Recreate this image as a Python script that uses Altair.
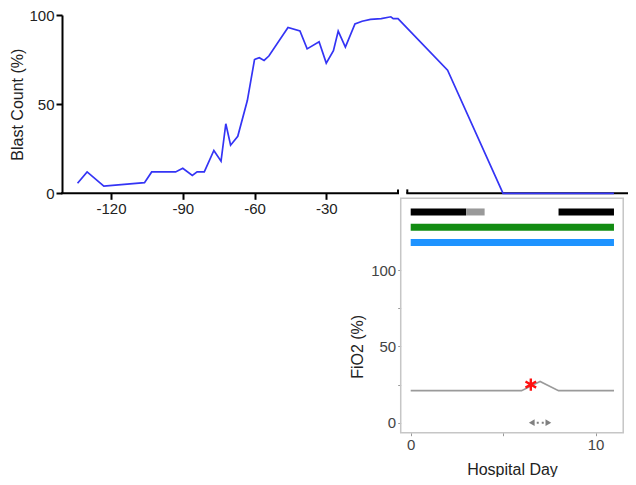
import altair as alt
import pandas as pd

# ---------------- data ----------------
# Blast count before admission: day relative to admission, percent
pre_days = [-134, -130, -123, -106, -103, -93, -90, -86, -84, -81, -77, -74, -72,
            -70, -67, -63, -60, -58, -56, -54, -46, -41, -38, -33, -30, -27, -25,
            -22, -18, -15, -11.5, -7, -3, -2, 0]
pre_blast = [5.6, 12, 4, 6, 12, 12, 14, 10, 12, 12, 24, 18, 39,
             27, 32, 52, 75, 76, 74.5, 77, 93, 91, 81, 85, 73, 80, 91,
             82, 95, 96.5, 97.5, 98, 99, 98, 98]
# Blast count during hospital stay (hospital day)
hosp_days = [2, 5, 11]
hosp_blast = [69, 0, 0]

# FiO2 during hospital stay
fio2_days = [0, 6, 7, 8, 11]
fio2_vals = [21, 21, 27, 21, 21]

# Treatment tracks shown above the FiO2 trace
track_names = ["therapy A", "therapy A (tapering)", "therapy A", "therapy B", "therapy C"]
track_start = [0, 3, 8, 0, 0]
track_end = [3, 4, 11, 11, 11]
track_color = ["#000000", "#999999", "#000000", "#128c12", "#1e93ff"]

# Event marker and interval arrow
event_day, event_fio2 = [6.5], [25]
arrow_days = [6.55, 7.45]

# ---------------- layout ----------------
W, H = 620, 469
FONT = "Liberation Sans"
HOSP_OFFSET = 1.0           # places the hospital segment after the axis break
track_level = {"therapy A": 138, "therapy A (tapering)": 138, "therapy B": 128, "therapy C": 118}

# top panel scales (piecewise x with a broken axis)
top_x_scale = alt.Scale(domain=[-140.5, 0, HOSP_OFFSET - 0.18, HOSP_OFFSET + 12.19],
                        range=[54, 390, 399.3, 627.9], nice=False, zero=False)
top_y_scale = alt.Scale(domain=[0, 100], range=[185.3, 7], nice=False, zero=False)

top_x_axis = alt.Axis(values=[-120, -90, -60, -30], orient="bottom", offset=185.3 - H,
                      domain=False, grid=False, tickColor="black", tickWidth=2, tickSize=6,
                      labelExpr="'' + datum.value",
                      labelFontSize=15, labelColor="#222", labelPadding=2, labelFont=FONT,
                      labelFlush=False, title=None)
top_y_axis = alt.Axis(values=[0, 50, 100], orient="left", offset=-54, grid=False,
                      domainColor="black", domainWidth=2, tickColor="black", tickWidth=2,
                      tickSize=6, labelFontSize=15, labelColor="#222", labelPadding=2,
                      labelFont=FONT, title="Blast Count (%)", titleFont=FONT,
                      titleFontSize=16, titleFontWeight="normal", titleColor="#222",
                      titlePadding=3)

def TX(f="t"):
    return alt.X(f + ":Q", scale=top_x_scale, axis=top_x_axis)

def TY(f="v"):
    return alt.Y(f + ":Q", scale=top_y_scale, axis=top_y_axis)

blast_df = pd.DataFrame({
    "t": pre_days + [d + HOSP_OFFSET for d in hosp_days],
    "v": pre_blast + hosp_blast,
})
axis_seg_df = pd.DataFrame({"t": [-140.5, HOSP_OFFSET - 0.18], "t2": [0, HOSP_OFFSET + 13], "v": [0, 0]})
hook_df = pd.DataFrame({"t": [0, HOSP_OFFSET - 0.18], "v": [0, 0], "v2": [2.2, 2.2]})

axis_lines = alt.Chart(axis_seg_df).mark_rule(color="black", strokeWidth=2, strokeCap="square").encode(
    x=TX(), x2="t2:Q", y=TY())
hooks = alt.Chart(hook_df).mark_rule(color="black", strokeWidth=2).encode(
    x=TX(), y=TY(), y2="v2:Q")
blast_line = alt.Chart(blast_df).mark_line(color="#3434f5", strokeWidth=1.7).encode(
    x=TX(), y=TY())

top = alt.layer(axis_lines, hooks, blast_line)

# inset (FiO2) scales
in_x_scale = alt.Scale(domain=[0, 10], range=[402.7, 587.5], nice=False, zero=False)
in_y_scale = alt.Scale(domain=[0, 100], range=[414.7, 262], nice=False, zero=False)
in_x_axis = alt.Axis(values=[0, 5, 10], labelExpr="datum.value % 10 == 0 ? datum.label : ''",
                     orient="bottom", offset=424.7 - H, domain=False, grid=False,
                     tickColor="#9a9a9a", tickSize=3, labelFontSize=15, labelColor="#444",
                     labelPadding=2, labelFont=FONT, labelFlush=False,
                     title="Hospital Day", titleFont=FONT, titleFontSize=16,
                     titleFontWeight="normal", titleColor="#222", titlePadding=9, titleX=504)
in_y_axis = alt.Axis(values=[0, 25, 50, 75, 100], labelExpr="datum.value % 50 == 0 ? datum.label : ''",
                     orient="left", offset=-392.7, domain=False, grid=False,
                     tickColor="#9a9a9a", tickSize=3, labelFontSize=15, labelColor="#444",
                     labelPadding=2, labelFont=FONT, title="FiO2 (%)", titleFont=FONT,
                     titleFontSize=16, titleFontWeight="normal", titleColor="#222",
                     titlePadding=5)

def IX(f="d"):
    return alt.X(f + ":Q", scale=in_x_scale, axis=in_x_axis)

def IY(f="v"):
    return alt.Y(f + ":Q", scale=in_y_scale, axis=in_y_axis)

frame_df = pd.DataFrame({"d": [-0.54], "d2": [11.5], "v": [-6.5], "v2": [147]})
track_df = pd.DataFrame({"d": track_start, "d2": track_end,
                         "v": [track_level[n] for n in track_names], "c": track_color})
fio2_df = pd.DataFrame({"d": fio2_days, "v": fio2_vals})
event_df = pd.DataFrame({"d": event_day, "v": event_fio2})
arrow_df = pd.DataFrame({"d": [arrow_days[0]], "d2": [arrow_days[1]], "v": [0]})
head_df = pd.DataFrame({"d": arrow_days, "v": [0, 0], "s": ["triangle-left", "triangle-right"]})

frame = alt.Chart(frame_df).mark_rect(fill=None, stroke="#c6c6c6", strokeWidth=1.5).encode(
    x=IX(), x2="d2:Q", y=IY(), y2="v2:Q")
tracks = alt.Chart(track_df).mark_rule(strokeWidth=7, strokeCap="butt").encode(
    x=IX(), x2="d2:Q", y=IY(), color=alt.Color("c:N", scale=None))
fio2_line = alt.Chart(fio2_df).mark_line(color="#9a9a9a", strokeWidth=1.6).encode(x=IX(), y=IY())
asterisk = alt.Chart(event_df).mark_point(
    shape="M0,-1L0,1M-0.87,-0.5L0.87,0.5M-0.87,0.5L0.87,-0.5",
    filled=False, stroke="#ff1010", strokeWidth=2.4, size=150, opacity=1).encode(x=IX(), y=IY())
arrow_line = alt.Chart(arrow_df).mark_rule(color="#808080", strokeWidth=2, strokeDash=[2, 3]).encode(
    x=IX(), x2="d2:Q", y=IY())
arrow_heads = alt.Chart(head_df).mark_point(filled=True, color="#808080", size=45, opacity=1).encode(
    x=IX(), y=IY(), shape=alt.Shape("s:N", scale=None))

inset = alt.layer(frame, tracks, fio2_line, asterisk, arrow_line, arrow_heads)

chart = alt.layer(top, inset).resolve_scale(x="independent", y="independent").properties(
    width=W, height=H, padding=0, autosize=alt.AutoSizeParams(type="none")
).configure_view(stroke=None)

chart.save("out.html", embed_options={"renderer": "svg", "actions": False})
